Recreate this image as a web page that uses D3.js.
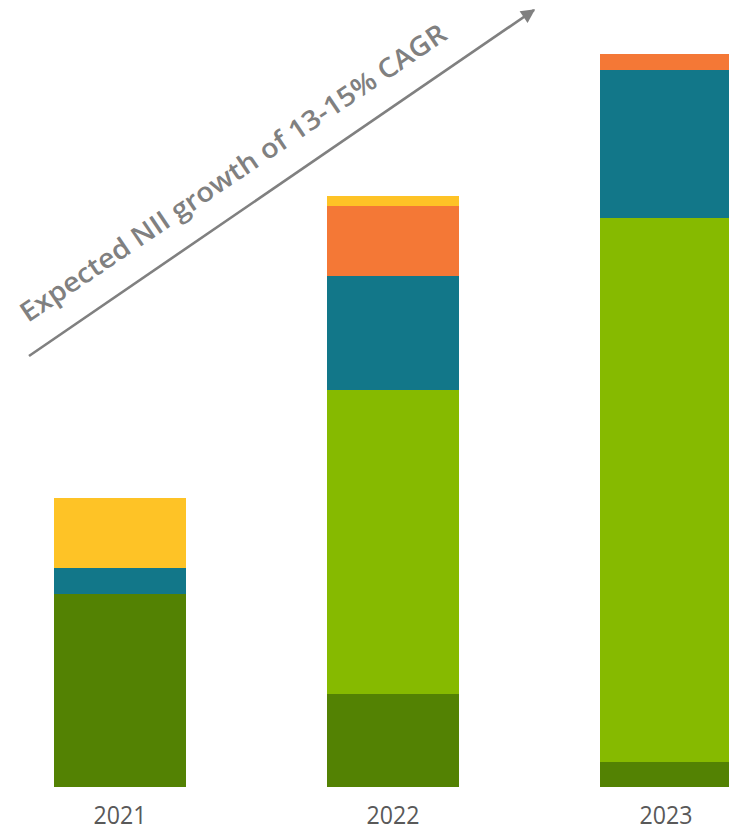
<!DOCTYPE html>
<html>
<head>
<meta charset="utf-8">
<script src="https://cdn.jsdelivr.net/npm/d3@7"></script>
<style>
  html, body { margin: 0; padding: 0; background: #fff; overflow: hidden; }
  svg { display: block; }
</style>
</head>
<body>
<svg id="chart" width="729" height="831"></svg>
<script>
// ---- data (arbitrary NII units) ----
const years = ["2021", "2022", "2023"];
const seriesNames = ["Segment A", "Segment B", "Segment C", "Segment D", "Segment E"];
const segmentA = [19.3, 9.3, 2.5];   // dark green (bottom)
const segmentB = [0, 30.4, 54.4];    // light green
const segmentC = [2.6, 11.4, 14.8];  // teal
const segmentD = [0, 7.0, 1.6];      // orange
const segmentE = [7.0, 1.0, 0];      // yellow (top)
const seriesColors = ["#538203", "#86BA00", "#127789", "#F47836", "#FEC326"];
const arrowLabel = "Expected NII growth of 13-15% CAGR";

// ---- build table ----
const seriesValues = [segmentA, segmentB, segmentC, segmentD, segmentE];
const table = years.map((y, i) => {
  const row = { year: y };
  seriesNames.forEach((s, k) => row[s] = seriesValues[k][i]);
  return row;
});
const stacked = d3.stack().keys(seriesNames)(table);

const svg = d3.select("#chart");

const x = d3.scaleBand().domain(years).range([54, 732]).paddingInner(0.5165).paddingOuter(0);
const y = d3.scaleLinear().domain([0, 73.3]).range([787, 54]);
const color = d3.scaleOrdinal().domain(seriesNames).range(seriesColors);

svg.append("g")
  .selectAll("g")
  .data(stacked)
  .join("g")
  .attr("fill", d => color(d.key))
  .selectAll("rect")
  .data(d => d)
  .join("rect")
  .attr("x", d => x(d.data.year))
  .attr("width", x.bandwidth())
  .attr("y", d => y(d[1]))
  .attr("height", d => Math.max(0, y(d[0]) - y(d[1])));

// year labels
svg.append("g")
  .selectAll("text")
  .data(years)
  .join("text")
  .attr("x", d => x(d) + x.bandwidth() / 2)
  .attr("y", 824)
  .attr("text-anchor", "middle")
  .attr("font-family", "'Open Sans', sans-serif")
  .attr("font-size", 25)
  .attr("fill", "#595959")
  .attr("textLength", 53)
  .attr("lengthAdjust", "spacingAndGlyphs")
  .text(d => d);

// growth arrow
const defs = svg.append("defs");
defs.append("marker")
  .attr("id", "arrowhead")
  .attr("viewBox", "0 0 10 10")
  .attr("refX", 9)
  .attr("refY", 5)
  .attr("markerUnits", "userSpaceOnUse")
  .attr("markerWidth", 17)
  .attr("markerHeight", 14)
  .attr("orient", "auto")
  .append("path")
  .attr("d", "M0,0 L10,5 L0,10 Z")
  .attr("fill", "#808080");

svg.append("line")
  .attr("x1", 29).attr("y1", 356)
  .attr("x2", 534).attr("y2", 10)
  .attr("stroke", "#808080")
  .attr("stroke-width", 2.6)
  .attr("marker-end", "url(#arrowhead)");

svg.append("text")
  .attr("transform", "translate(28,323) rotate(-34.1)")
  .attr("font-family", "'Open Sans', sans-serif")
  .attr("font-weight", 650)
  .attr("font-size", 27)
  .attr("fill", "#808080")
  .attr("textLength", 508)
  .attr("lengthAdjust", "spacingAndGlyphs")
  .text(arrowLabel);
</script>
</body>
</html>
